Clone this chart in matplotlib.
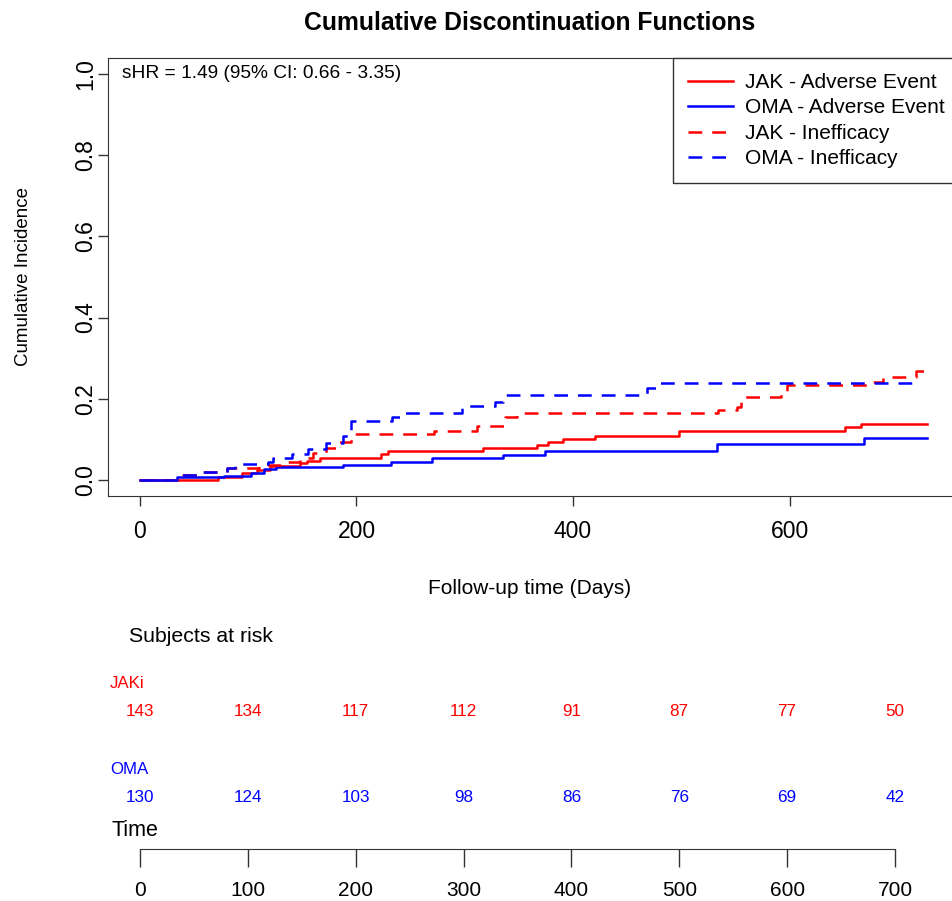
import matplotlib
matplotlib.use("Agg")
import matplotlib.pyplot as plt
import numpy as np

plt.rcParams['font.family'] = ['Liberation Sans', 'DejaVu Sans']

# cumulative incidence step functions (event times in days, CIF after the step)
jak_ae_t = [0, 72, 94, 108, 120, 148, 154, 166, 223, 229, 317, 367, 377, 391, 420, 498, 651, 666]
jak_ae_y = [0, 0.008, 0.016, 0.023, 0.033, 0.041, 0.047, 0.053, 0.064, 0.071, 0.078, 0.086,
            0.094, 0.101, 0.109, 0.121, 0.129, 0.138]
oma_ae_t = [0, 34, 78, 103, 115, 126, 188, 232, 270, 335, 374, 533, 669]
oma_ae_y = [0, 0.007, 0.010, 0.016, 0.026, 0.031, 0.037, 0.045, 0.054, 0.062, 0.071, 0.089, 0.103]
jak_in_t = [0, 40, 55, 80, 110, 130, 148, 160, 172, 183, 195, 272, 311, 337, 348, 534, 551, 555,
            592, 598, 672, 686, 717]
jak_in_y = [0, 0.012, 0.020, 0.029, 0.037, 0.045, 0.053, 0.066, 0.078, 0.092, 0.113, 0.121, 0.133,
            0.154, 0.164, 0.172, 0.180, 0.204, 0.216, 0.234, 0.242, 0.254, 0.268]
oma_in_t = [0, 35, 55, 80, 88, 118, 123, 140, 155, 172, 188, 195, 233, 240, 297, 328, 335, 468, 477]
oma_in_y = [0, 0.012, 0.020, 0.028, 0.039, 0.045, 0.053, 0.063, 0.075, 0.090, 0.107, 0.146, 0.156,
            0.164, 0.181, 0.193, 0.210, 0.226, 0.238]
end_jak = 727
end_oma_ae = 727
end_oma_in = 718

risk_times = [0, 100, 200, 300, 400, 500, 600, 700]
risk_jak = [143, 134, 117, 112, 91, 87, 77, 50]
risk_oma = [130, 124, 103, 98, 86, 76, 69, 42]

RED = '#FF0000'
BLUE = '#0000FF'

fig = plt.figure(figsize=(9.52, 9.01), dpi=100)
W, H = 952, 901

def px_axes(left, top, right, bottom):
    return fig.add_axes([left / W, 1 - bottom / H, (right - left) / W, (bottom - top) / H])

ax = px_axes(108, 58, 952, 496)

def draw(t, y, end, color, ls):
    tt = list(t) + [end]
    yy = list(y) + [y[-1]]
    line, = ax.step(tt, yy, where='post', color=color, lw=1.8)
    if ls == 'dash':
        line.set_dashes((5.5, 4))
    return line

l1 = draw(jak_ae_t, jak_ae_y, end_jak, RED, 'solid')
l2 = draw(oma_ae_t, oma_ae_y, end_oma_ae, BLUE, 'solid')
l3 = draw(jak_in_t, jak_in_y, end_jak, RED, 'dash')
l4 = draw(oma_in_t, oma_in_y, end_oma_in, BLUE, 'dash')

ax.set_xlim(-29.5, 750)
ax.set_ylim(-0.04, 1.04)
ax.spines['right'].set_visible(False)
for s in ax.spines.values():
    s.set_color('#333333')
ax.set_xticks([0, 200, 400, 600])
ax.set_yticks([0, 0.2, 0.4, 0.6, 0.8, 1.0])
ax.set_yticklabels(['0.0', '0.2', '0.4', '0.6', '0.8', '1.0'], rotation=90, va='center')
ax.tick_params(axis='both', labelsize=16.5, length=7, width=1, color='#333333')
ax.tick_params(axis='x', pad=10)
ax.tick_params(axis='y', pad=1)
ax.set_xlabel('Follow-up time (Days)', fontsize=15, labelpad=26)
ax.set_ylabel('Cumulative Incidence', fontsize=13.5, labelpad=30)
ax.set_title('Cumulative Discontinuation Functions', fontsize=17.8, fontweight='bold', pad=20)
ax.text(-17, 1.003, 'sHR = 1.49 (95% CI: 0.66 - 3.35)', fontsize=13.8, va='center', ha='left')

leg = ax.legend([l1, l2, l3, l4],
                ['JAK - Adverse Event', 'OMA - Adverse Event', 'JAK - Inefficacy', 'OMA - Inefficacy'],
                loc='upper right', bbox_to_anchor=(1.0095, 1.0), borderaxespad=0, fancybox=False,
                edgecolor='#333333', framealpha=1, fontsize=15, handlelength=2.15,
                handletextpad=0.58, labelspacing=0.31, borderpad=0.72)
leg.get_frame().set_linewidth(1)

# risk table
rx = px_axes(108, 620, 952, 849)
rx.set_xlim(-29.7, 752.9)
rx.set_ylim(0, 1)
for k in ['top', 'right', 'left']:
    rx.spines[k].set_visible(False)
rx.spines['bottom'].set_bounds(0, 700)
rx.spines['bottom'].set_color('#333333')
rx.set_yticks([])
rx.set_xticks(risk_times)
rx.tick_params(axis='x', labelsize=15, length=13, width=1, color='#333333', pad=10)

def ry(py):
    return (849 - py) / (849 - 620)

rx.text(-10, ry(636), 'Subjects at risk', fontsize=15.3, va='center', ha='left')
rx.text(-28, ry(684), 'JAKi', fontsize=12.2, color=RED, va='center', ha='left')
rx.text(-28, ry(770), 'OMA', fontsize=12.2, color=BLUE, va='center', ha='left')
rx.text(-26, ry(831), 'Time', fontsize=15.5, va='center', ha='left')
for t, a, b in zip(risk_times, risk_jak, risk_oma):
    rx.text(t, ry(711), str(a), fontsize=12.3, color=RED, ha='center', va='center')
    rx.text(t, ry(797), str(b), fontsize=12.3, color=BLUE, ha='center', va='center')

fig.savefig('out.png', dpi=100)
